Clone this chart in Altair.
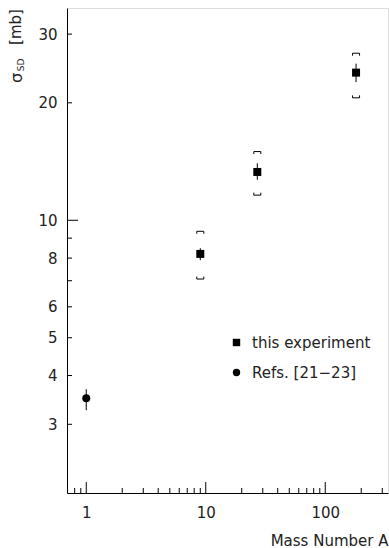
import altair as alt
import pandas as pd

# ---- data ----
mass_number = [1, 9, 27, 181]
sigma_sd = [3.5, 8.2, 13.3, 23.9]
stat_low = [3.26, 7.9, 12.7, 22.6]
stat_high = [3.69, 8.48, 14.0, 25.2]
source = ["Refs. [21−23]", "this experiment", "this experiment", "this experiment"]

sys_mass = [9, 27, 181]
sys_low = [7.07, 11.6, 20.6]
sys_high = [9.37, 15.0, 26.8]

x_major_ticks = [1, 10, 100]
x_minor_ticks = [0.8, 0.9, 2, 3, 4, 5, 6, 7, 8, 9, 20, 30, 40, 50, 60, 70, 80, 90, 200, 300]
y_labels = [3, 4, 5, 6, 8, 10, 20, 30]
y_major_ticks = [10]
y_minor_ticks = [3, 4, 5, 6, 7, 8, 9, 20, 30]

W, H = 321, 485
FONT = "DejaVu Sans"
TXT = "#222222"
FS = 15

df = pd.DataFrame({"A": mass_number, "sigma": sigma_sd, "lo": stat_low,
                   "hi": stat_high, "src": source})
sys_df = pd.DataFrame({"A": sys_mass, "lo": sys_low, "hi": sys_high})

xs = alt.Scale(type="log", domain=[0.69, 335], nice=False)
ys = alt.Scale(type="log", domain=[2, 35], nice=False)

x_axis = alt.Axis(values=x_major_ticks, format=".0f", ticks=False, grid=False,
                  domainColor="black", labelFontSize=FS, labelFont=FONT, labelColor=TXT,
                  labelPadding=12, title="Mass Number A", titleFont=FONT,
                  titleFontSize=FS, titleFontWeight="normal", titleColor=TXT,
                  titleAnchor="end", titlePadding=13)
y_axis = alt.Axis(values=y_labels, format=".0f", ticks=False, grid=False,
                  domainColor="black", labelFontSize=FS, labelFont=FONT, labelColor=TXT,
                  labelPadding=10, title=None)

# statistical error bars
stat = alt.Chart(df).mark_rule(color="black", strokeWidth=1).encode(
    x=alt.X("A:Q", scale=xs, axis=x_axis),
    y=alt.Y("lo:Q", scale=ys, axis=y_axis),
    y2="hi:Q",
)

# data points with legend
points = alt.Chart(df).mark_point(filled=True, opacity=1, size=64, color="black").encode(
    x=alt.X("A:Q", scale=xs),
    y=alt.Y("sigma:Q", scale=ys),
    shape=alt.Shape("src:N",
                    scale=alt.Scale(domain=["this experiment", "Refs. [21−23]"],
                                    range=["square", "circle"]),
                    legend=alt.Legend(title=None, orient="none", legendX=162, legendY=327,
                                      labelFontSize=FS, labelFont=FONT, labelColor=TXT,
                                      symbolSize=55, symbolFillColor="black",
                                      symbolStrokeColor="black", symbolStrokeWidth=0,
                                      rowPadding=14, labelOffset=8)),
)

# systematic brackets
top_br = alt.Chart(sys_df).mark_point(
    shape="M-1,0.7 L-1,0 L1,0 L1,0.7", filled=False, size=49,
    color="black", strokeWidth=1, opacity=1).encode(
    x=alt.X("A:Q", scale=xs), y=alt.Y("hi:Q", scale=ys))
bot_br = alt.Chart(sys_df).mark_point(
    shape="M-1,-0.7 L-1,0 L1,0 L1,-0.7", filled=False, size=49,
    color="black", strokeWidth=1, opacity=1).encode(
    x=alt.X("A:Q", scale=xs), y=alt.Y("lo:Q", scale=ys))

# inward ticks
xmaj = alt.Chart(pd.DataFrame({"v": x_major_ticks})).mark_rule(color="black").encode(
    x=alt.X("v:Q", scale=xs), y=alt.value(H), y2=alt.value(H - 11))
xmin = alt.Chart(pd.DataFrame({"v": x_minor_ticks})).mark_rule(color="black").encode(
    x=alt.X("v:Q", scale=xs), y=alt.value(H), y2=alt.value(H - 5))
ymaj = alt.Chart(pd.DataFrame({"v": y_major_ticks})).mark_rule(color="black").encode(
    y=alt.Y("v:Q", scale=ys), x=alt.value(0), x2=alt.value(11))
ymin = alt.Chart(pd.DataFrame({"v": y_minor_ticks})).mark_rule(color="black").encode(
    y=alt.Y("v:Q", scale=ys), x=alt.value(0), x2=alt.value(5))

# y-axis title: sigma_SD [mb]
one = alt.Data(values=[{"k": 1}])
t_sigma = alt.Chart(one).mark_text(text="σ", angle=270, font=FONT, fontSize=16,
                                   color=TXT).encode(x=alt.value(-50), y=alt.value(70))
t_sd = alt.Chart(one).mark_text(text="SD", angle=270, font=FONT, fontSize=9,
                                color=TXT).encode(x=alt.value(-46), y=alt.value(57))
t_mb = alt.Chart(one).mark_text(text="[mb]", angle=270, font=FONT, fontSize=FS,
                                color=TXT).encode(x=alt.value(-51), y=alt.value(19))

chart = alt.layer(stat, top_br, bot_br, xmaj, xmin, ymaj, ymin, points,
                  t_sigma, t_sd, t_mb).properties(
    width=W, height=H,
    autosize=alt.AutoSizeParams(type="none"),
    padding={"left": 67, "top": 8, "right": 1, "bottom": 55},
).configure_view(stroke="#333333", strokeWidth=1).configure(background="white")

chart.save("out.html", embed_options={"renderer": "svg", "actions": False})
